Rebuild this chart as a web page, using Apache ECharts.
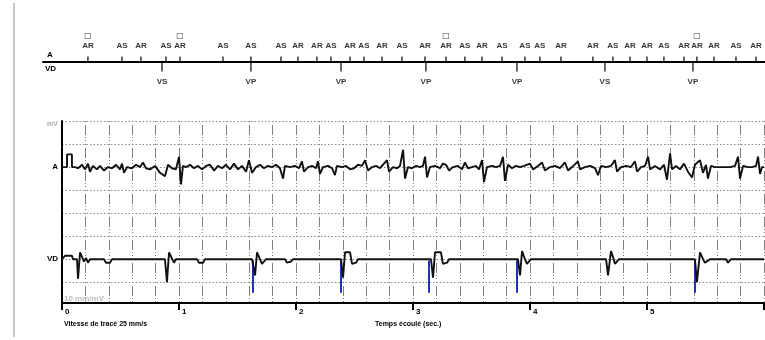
<!DOCTYPE html>
<html>
<head>
<meta charset="utf-8">
<script src="https://cdn.jsdelivr.net/npm/echarts@6/dist/echarts.min.js"></script>
<style>
  html, body { margin: 0; padding: 0; background: #fff; }
  #c { width: 765px; height: 340px; }
</style>
</head>
<body>
<div id="c"></div>
<script>
// Electrogram samples: [time in ms, amplitude in grid divisions (positive = up)]
const atrialTrace = [
  [0,0],[43,0],[43,0.55],[85,0.55],[85,0],[111,0],
  [137,-0.05],[171,0.1],[197,-0.1],[222,0.15],[239,-0.2],[265,0.05],[299,-0.1],[325,0.05],[359,-0.15],[393,0],
  [427,-0.05],[462,0.1],[496,-0.1],[513,0.15],[530,-0.25],[556,0],[598,-0.05],[632,0.1],[667,0],[692,0.2],
  [718,-0.05],[752,-0.1],[795,0.05],[838,-0.25],[880,-0.4],[906,0.1],[940,-0.05],[974,-0.1],[1000,0.45],
  [1017,-0.75],[1034,0.05],[1060,0],[1094,0.1],[1128,-0.05],[1162,0.05],[1197,-0.1],[1231,0.05],[1265,0.1],
  [1299,-0.15],[1333,0.05],[1368,-0.05],[1402,0.1],[1436,-0.1],[1470,0.15],[1504,-0.1],[1538,0.05],[1573,-0.2],
  [1598,0.3],[1624,-0.25],[1658,0],[1692,0.1],[1726,-0.05],[1761,0.05],[1795,0],[1829,0.1],[1863,-0.05],
  [1889,-0.5],[1906,0.05],[1949,0],[1991,0.05],[2026,-0.05],[2051,0.25],[2068,-0.2],[2103,0],[2137,0.05],
  [2171,-0.05],[2188,0.25],[2205,-0.3],[2231,0],[2274,0.05],[2308,-0.05],[2333,-0.35],[2350,0.05],[2393,0],
  [2427,0.05],[2462,-0.1],[2496,-0.05],[2530,0.1],[2564,0.05],[2590,0.3],[2615,-0.15],[2650,0],[2684,0.05],
  [2718,-0.05],[2752,0.15],[2778,0.3],[2795,-0.2],[2829,0],[2863,-0.05],[2889,0.05],[2915,0.75],[2932,-0.5],
  [2957,0],[2991,-0.05],[3026,0.05],[3060,0],[3085,0.05],[3103,0.45],[3120,-0.45],[3145,0],[3188,0.05],
  [3231,-0.05],[3256,0.15],[3282,0.1],[3308,-0.15],[3342,0],[3385,0.05],[3419,-0.1],[3444,0.2],[3470,-0.05],
  [3504,0],[3538,0.05],[3564,-0.1],[3590,0.3],[3607,-0.65],[3632,0],[3675,0.05],[3709,0],[3744,0.05],
  [3769,0.45],[3786,-0.6],[3812,0.1],[3846,-0.05],[3880,0.05],[3915,0],[3949,0.05],[4000,0.15],[4026,-0.1],
  [4068,0.05],[4103,0.2],[4128,-0.15],[4171,0],[4214,0.05],[4256,-0.05],[4299,0.2],[4325,-0.15],[4359,0],
  [4410,0.25],[4427,-0.1],[4470,0],[4513,0.05],[4556,-0.05],[4581,-0.35],[4607,0.05],[4650,0],[4692,0.05],
  [4726,0.3],[4744,-0.2],[4778,0],[4821,0.05],[4863,0],[4897,0.25],[4915,-0.2],[4949,0],[4983,0.05],
  [5009,0.45],[5026,-0.1],[5068,0.05],[5111,-0.1],[5145,0.1],[5171,-0.55],[5197,0.6],[5214,-0.1],[5248,0.05],
  [5282,-0.1],[5316,0.15],[5350,-0.2],[5385,-0.45],[5410,0.1],[5453,0.3],[5479,-0.25],[5504,0.1],[5521,-0.5],
  [5547,0.05],[5581,0],[5624,0],[5667,0],[5709,0],[5752,0.05],[5778,0.45],[5795,-0.5],[5821,0.05],[5863,0],
  [5897,0],[5932,0.05],[5949,0.45],[5966,-0.3],[5983,0],[6000,0]
];

const ventricularTrace = [
  [0,0],[17,0],[26,0.15],[85,0.15],[94,0],[128,0],[137,-0.85],[154,0.3],[171,0.35],[188,-0.1],[205,0.05],
  [222,-0.15],[239,0],[359,0],[376,-0.15],[410,-0.15],[427,0],[880,0],[897,-1.0],[915,0.3],[932,0.3],
  [957,-0.15],[974,0],[1154,0],[1171,-0.15],[1205,-0.15],[1222,0],[1624,0],[1650,-0.7],[1667,0.3],[1692,0],
  [1709,-0.2],[1744,0],[1906,0],[1923,-0.15],[1957,-0.1],[1974,0],[2385,0],[2402,-0.8],[2419,0.3],[2462,0.3],
  [2479,-0.2],[2513,-0.15],[2530,0],[3154,0],[3171,-0.8],[3188,0.3],[3239,0.3],[3256,-0.2],[3291,-0.15],
  [3308,0],[3897,0],[3915,-0.7],[3932,0.35],[3957,0],[3974,-0.2],[4009,0],[4650,0],[4667,-0.7],[4692,0.35],
  [4709,0.1],[4726,-0.2],[4761,0],[5410,0],[5427,-1.0],[5453,0.3],[5479,0],[5496,-0.15],[5538,0],[5675,0],
  [5692,-0.15],[5718,0],[6000,0]
];

// Ventricular pacing spikes (ms) and their depth in grid divisions
const paceTimes = [1632, 2385, 3137, 3889, 5410];
const paceDepth = 1.45;

// Marker channel
const atrialMarkTimes = [222,513,675,889,1009,1376,1615,1872,2017,2179,2299,2462,2581,2735,2906,3103,3282,
  3444,3590,3761,3957,4085,4265,4538,4709,4855,5000,5145,5316,5427,5573,5761,5932];
const atrialMarkLabels = ['AR','AS','AR','AS','AR','AS','AS','AS','AR','AR','AS','AR','AS','AR','AS','AR','AR',
  'AS','AR','AS','AS','AS','AR','AR','AS','AR','AR','AS','AR','AR','AR','AS','AR'];
const atrialMarkBoxed = [222, 1009, 3282, 5427];
const ventMarkTimes = [855, 1615, 2385, 3111, 3889, 4641, 5393];
const ventMarkLabels = ['VS','VP','VP','VP','VP','VS','VP'];

const timeTickLabels = ['0', '1', '2', '3', '4', '5', ''];
const rowLabels = ['mV', '', 'A', '', '', '', 'VD', ''];
const markerRowLabels = ['A', 'VD'];
const gainLabel = '10 mm/mV';
const footerLeft = 'Vitesse de tracé 25 mm/s';
const footerRight = 'Temps écoulé (sec.)';

// baseline row of each channel on the inverted row axis
const ROW_A = 2, ROW_V = 6;
const FONT = 'Liberation Sans';

const chart = echarts.init(document.getElementById('c'), null, { renderer: 'canvas' });

const traceStyle = { color: '#111', width: 1.9 };

const option = {
  animation: false,
  backgroundColor: '#fff',
  textStyle: { fontFamily: FONT },
  grid: [
    { left: 62, right: 1, top: 121, bottom: 37, outerBoundsMode: 'none', containLabel: false },
    { left: 43, right: 0, top: 20, height: 42, outerBoundsMode: 'none', containLabel: false }
  ],
  xAxis: [
    {
      gridIndex: 0, type: 'value', min: 0, max: 6000, interval: 200,
      axisLine: { onZero: false, lineStyle: { color: '#000', width: 2 } },
      axisTick: { show: false }, axisLabel: { show: false },
      splitLine: { show: true, lineStyle: { color: '#808080', width: 1, type: [1, 3, 10, 2, 1, 2, 1, 3] } }
    },
    {
      gridIndex: 0, type: 'value', min: 0, max: 6000, interval: 1000, position: 'bottom',
      axisLine: { show: false, onZero: false },
      axisTick: { show: true, length: 7, lineStyle: { color: '#000', width: 2 } },
      splitLine: { show: false },
      axisLabel: {
        show: true, margin: 5, align: 'left', padding: [0, 0, 0, 3],
        fontSize: 8, fontWeight: 'bold', color: '#000', fontFamily: FONT,
        showMinLabel: true, showMaxLabel: true,
        formatter: v => timeTickLabels[Math.round(v / 1000)] || ''
      }
    },
    {
      gridIndex: 1, type: 'value', min: -162, max: 6009,
      axisLine: { onZero: false, lineStyle: { color: '#000', width: 2 } },
      axisTick: { show: false }, axisLabel: { show: false }, splitLine: { show: false }
    }
  ],
  yAxis: [
    {
      gridIndex: 0, type: 'value', inverse: true, min: 0, max: 7.9, interval: 1,
      axisLine: { show: true, lineStyle: { color: '#000', width: 2 } },
      axisTick: { show: false },
      splitLine: { show: true, lineStyle: { color: '#8a8a8a', width: 1, type: [1.5, 2] } },
      axisLabel: {
        show: true, margin: 4, fontFamily: FONT,
        formatter: v => {
          const t = rowLabels[Math.round(v)];
          if (!t || Math.abs(v - Math.round(v)) > 1e-6) return '';
          return Math.round(v) === 0 ? '{u|' + t + '}' : '{c|' + t + '}';
        },
        rich: {
          u: { fontSize: 7, color: '#aaa', fontWeight: 'bold', fontFamily: FONT, padding: [6, 0, 0, 0] },
          c: { fontSize: 8, color: '#000', fontWeight: 'bold', fontFamily: FONT }
        }
      }
    },
    { gridIndex: 1, type: 'value', min: 0, max: 1, show: false }
  ],
  series: [
    {
      name: 'A', type: 'line', xAxisIndex: 0, yAxisIndex: 0, showSymbol: false, silent: true,
      lineStyle: traceStyle, z: 5,
      data: atrialTrace.map(p => [p[0], ROW_A - p[1]])
    },
    {
      name: 'VD', type: 'line', xAxisIndex: 0, yAxisIndex: 0, showSymbol: false, silent: true,
      lineStyle: traceStyle, z: 5,
      data: ventricularTrace.map(p => [p[0], ROW_V - p[1]]),
      markLine: {
        silent: true, symbol: ['none', 'none'], label: { show: false },
        lineStyle: { color: '#2530b8', width: 2, type: 'solid' },
        data: paceTimes.map(t => [{ coord: [t, ROW_V + 0.05] }, { coord: [t, ROW_V + paceDepth] }])
      }
    },
    {
      name: 'marqueurs A', type: 'scatter', xAxisIndex: 2, yAxisIndex: 1, clip: false, silent: true,
      symbol: 'rect', symbolSize: [1.5, 5], symbolOffset: [0, -3],
      itemStyle: { color: '#000' },
      data: atrialMarkTimes.map(t => [t, 0]),
      label: {
        show: true, position: 'top', distance: 6, color: '#000',
        formatter: p => {
          const t = atrialMarkTimes[p.dataIndex];
          const txt = '{t|' + atrialMarkLabels[p.dataIndex] + '}';
          return atrialMarkBoxed.indexOf(t) >= 0 ? '{b|□}\n' + txt : txt;
        },
        rich: {
          t: { fontSize: 8, fontWeight: 'bold', color: '#000', fontFamily: FONT, lineHeight: 9 },
          b: { fontSize: 8, fontWeight: 'bold', color: '#000', fontFamily: 'DejaVu Sans', lineHeight: 12 }
        }
      }
    },
    {
      name: 'marqueurs V', type: 'scatter', xAxisIndex: 2, yAxisIndex: 1, clip: false, silent: true,
      symbol: 'rect', symbolSize: [1.5, 9], symbolOffset: [0, 5],
      itemStyle: { color: '#000' },
      data: ventMarkTimes.map(t => [t, 0]),
      label: {
        show: true, position: 'bottom', distance: 6, color: '#000',
        fontSize: 8, fontWeight: 'bold', fontFamily: FONT,
        formatter: p => ventMarkLabels[p.dataIndex]
      }
    }
  ],
  graphic: [
    { type: 'line', shape: { x1: 14, y1: 3, x2: 14, y2: 337 }, style: { stroke: '#c8c8c8', lineWidth: 2 }, silent: true },
    { type: 'text', left: 47, top: 51, style: { text: markerRowLabels[0], font: 'bold 8px ' + FONT, fill: '#000' } },
    { type: 'text', left: 45, top: 65, style: { text: markerRowLabels[1], font: 'bold 8px ' + FONT, fill: '#000' } },
    { type: 'text', left: 64, top: 295, style: { text: gainLabel, font: 'bold 8px ' + FONT, fill: '#bdbdbd' } },
    { type: 'text', left: 64, top: 321, style: { text: footerLeft, font: 'bold 7px ' + FONT, fill: '#000' } },
    { type: 'text', left: 375, top: 321, style: { text: footerRight, font: 'bold 7px ' + FONT, fill: '#000' } }
  ]
};

chart.setOption(option);
</script>
</body>
</html>
